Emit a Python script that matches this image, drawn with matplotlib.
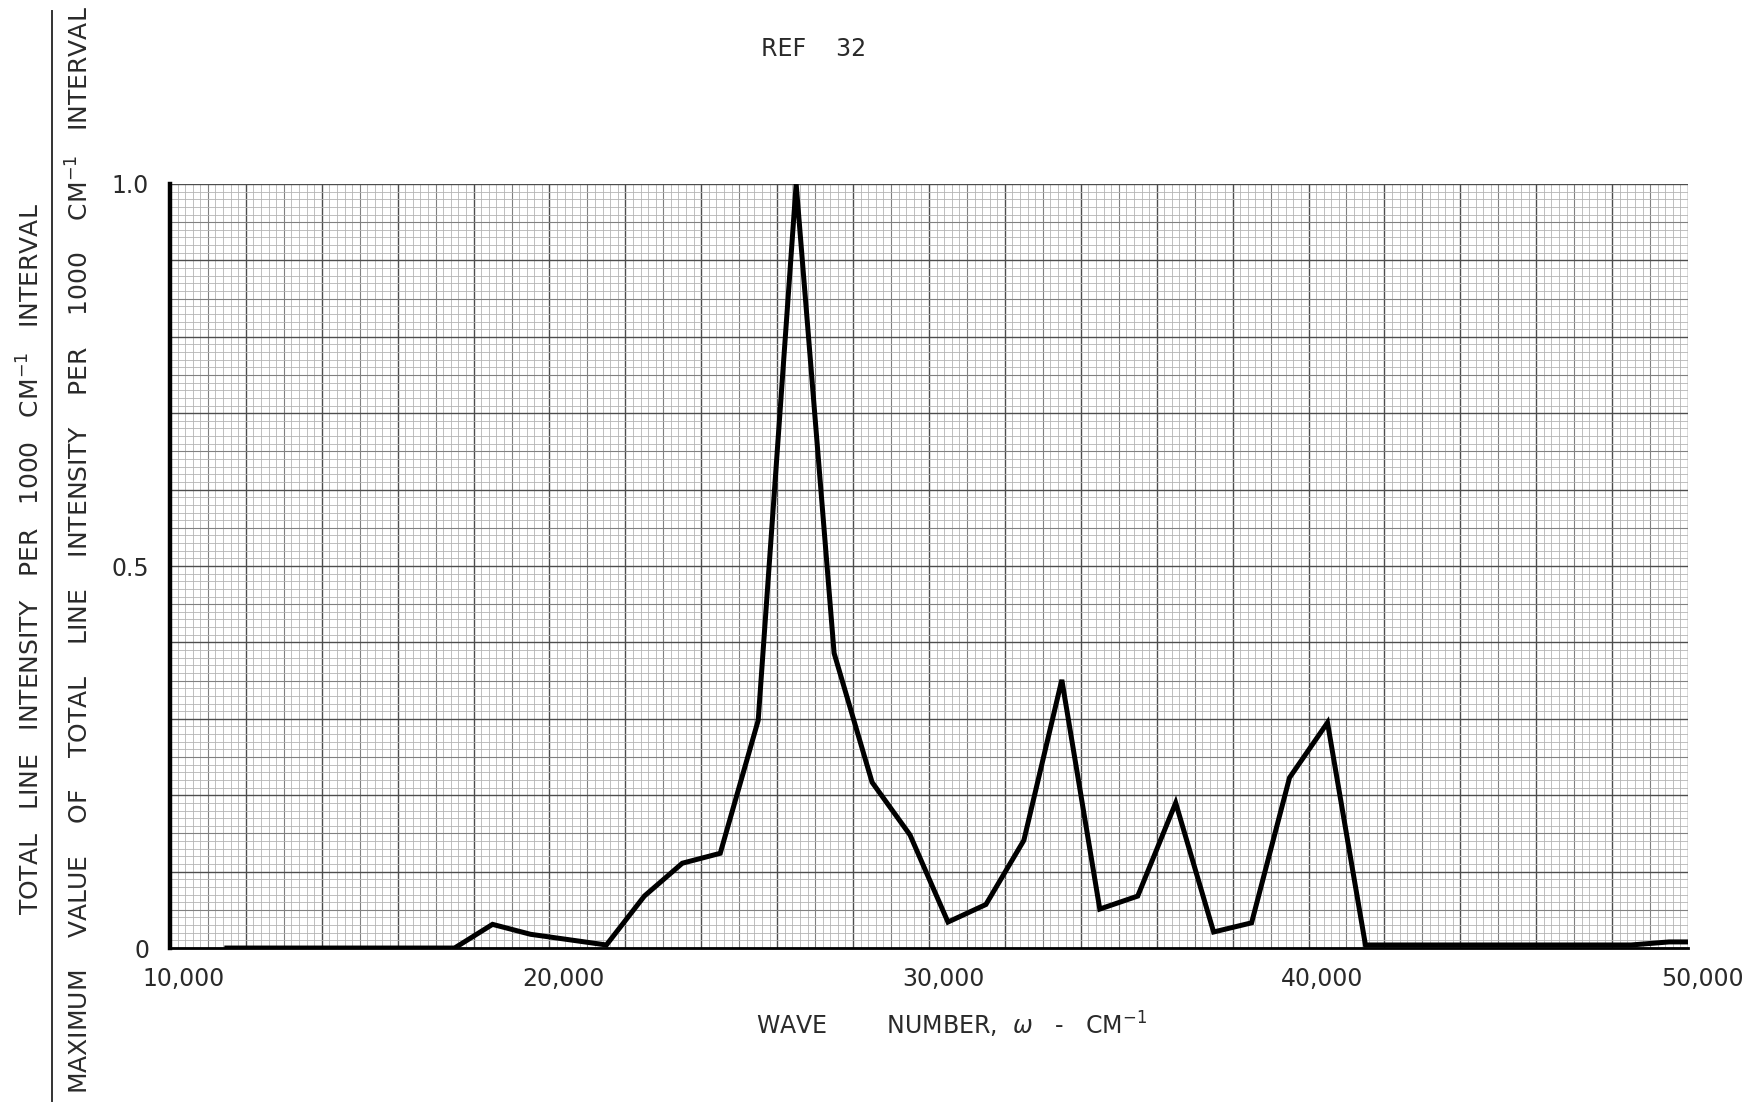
import numpy as np
import matplotlib
matplotlib.use("Agg")
import matplotlib.pyplot as plt
from matplotlib.transforms import ScaledTranslation

# wave number (cm^-1) and relative intensity
wave_number = [11500, 12500, 13500, 14500, 15500, 16500, 17500, 18500, 19500,
               20500, 21500, 22500, 23500, 24500, 25500, 26500, 27500, 28500,
               29500, 30500, 31500, 32500, 33500, 34500, 35500, 36500, 37500,
               38500, 39500, 40500, 41500, 42500, 43500, 44500, 45500, 46500,
               47500, 48500, 49500, 50000]
intensity = [0.0, 0.0, 0.0, 0.0, 0.0, 0.0, 0.0, 0.031, 0.018,
             0.011, 0.004, 0.068, 0.111, 0.124, 0.298, 1.0, 0.386, 0.217,
             0.148, 0.034, 0.057, 0.141, 0.351, 0.051, 0.068, 0.190, 0.021,
             0.033, 0.223, 0.295, 0.004, 0.004, 0.004, 0.004, 0.004, 0.004,
             0.004, 0.004, 0.008, 0.008]

x_ticks = [10000, 20000, 30000, 40000, 50000]
x_tick_labels = ["10,000", "20,000", "30,000", "40,000", "50,000"]
y_ticks = [0, 0.5, 1.0]
y_tick_labels = ["0", "0.5", "1.0"]

txt = "#2a2a2a"

fig = plt.figure(figsize=(17.5, 11.07), dpi=100)
ax = fig.add_axes([0.0971, 0.1436, 0.8675, 0.6902])
ax.set_xlim(10000, 50000)
ax.set_ylim(0, 1.0)

# graph paper: light every 200 / 0.01, medium every 1000 / 0.05, dark every 2000 / 0.1
for xv in np.arange(10000, 50001, 200):
    if xv % 2000 == 0:
        c, lw = "#4d4d4d", 1.0
    elif xv % 1000 == 0:
        c, lw = "#808080", 0.8
    else:
        c, lw = "#b4b4b4", 0.6
    ax.axvline(xv, color=c, lw=lw, zorder=0)
for i in range(101):
    yv = i / 100
    if i % 10 == 0:
        c, lw = "#4d4d4d", 1.0
    elif i % 5 == 0:
        c, lw = "#808080", 0.8
    else:
        c, lw = "#b4b4b4", 0.6
    ax.axhline(yv, color=c, lw=lw, zorder=0)

ax.plot(wave_number, intensity, color="black", lw=3.6, solid_joinstyle="miter", zorder=3)

for s in ["top", "right"]:
    ax.spines[s].set_visible(False)
ax.spines["left"].set_linewidth(3.2)
ax.spines["bottom"].set_linewidth(2.0)

ax.set_xticks(x_ticks)
ax.set_xticklabels(x_tick_labels, fontsize=17, color=txt)
ax.set_yticks(y_ticks)
ax.set_yticklabels(y_tick_labels, fontsize=17, color=txt)
ax.tick_params(axis="x", length=0, pad=14)
ax.tick_params(axis="y", length=0, pad=15)
for lab in ax.get_xticklabels():
    lab.set_transform(lab.get_transform() + ScaledTranslation(0.14, 0, fig.dpi_scale_trans))

fig.text(0.544, 0.074, r"WAVE        NUMBER,  $\omega$   -   CM$^{-1}$", fontsize=17,
         color=txt, ha="center", va="center")
fig.text(0.465, 0.956, "REF    32", fontsize=17, color=txt, ha="center", va="center")

fig.text(0.018, 0.495, r"TOTAL   LINE   INTENSITY   PER   1000   CM$^{-1}$   INTERVAL",
         rotation=90, fontsize=18, color=txt, ha="center", va="center")
fig.text(0.046, 0.503,
         r"MAXIMUM    VALUE    OF    TOTAL    LINE    INTENSITY    PER    1000    CM$^{-1}$   INTERVAL",
         rotation=90, fontsize=18, color=txt, ha="center", va="center")
fig.add_artist(plt.Line2D([0.0297, 0.0297], [0.005, 0.99], transform=fig.transFigure,
                          color="#333333", lw=1.4))

plt.savefig("out.png", dpi=100, facecolor="white")
